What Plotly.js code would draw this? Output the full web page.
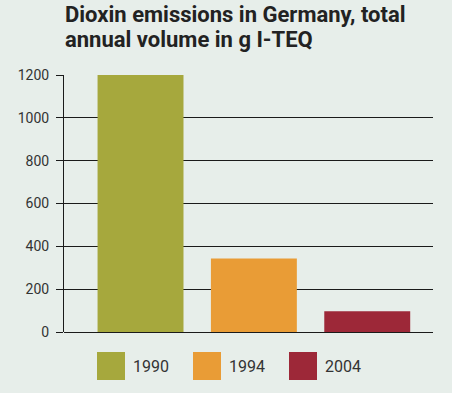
<!DOCTYPE html>
<html>
<head>
<meta charset="utf-8">
<script src="https://cdn.plot.ly/plotly-3.0.1.min.js"></script>
<style>
html,body{margin:0;padding:0;background:#e7eeea;}
#chart{width:452px;height:393px;}
</style>
</head>
<body>
<div id="chart"></div>
<script>
var years = ["1990", "1994", "2004"];
var emissions = [1200, 343, 97];
var barColors = ["#a6a83d", "#e99c36", "#9d2838"];
var yTicks = [0, 200, 400, 600, 800, 1000, 1200];
var titleLines = ["Dioxin emissions in Germany, total", "annual volume in g I-TEQ"];

var W = 452, H = 393;
var mL = 64, mR = 19, mT = 75, mB = 61;
var pw = W - mL - mR, ph = H - mT - mB;
function px2x(px){ return (px - mL) / pw; }
function py2y(py){ return (H - mB - py) / ph; }

var shapes = [], annotations = [];
titleLines.forEach(function(line, i){
  annotations.push({xref:'paper', yref:'paper', x: px2x(63), y: py2y(15 + i * 24),
    xanchor:'left', yanchor:'middle', showarrow:false, text: line,
    font:{family:'Roboto', size:22, color:'#222', weight:'bold'}});
});
years.forEach(function(yr, i){
  var sx = 97 + i * 96;
  shapes.push({type:'rect', xref:'paper', yref:'paper',
    x0: px2x(sx), x1: px2x(sx + 28), y0: py2y(380), y1: py2y(352),
    fillcolor: barColors[i], line:{width:0}});
  annotations.push({xref:'paper', yref:'paper', x: px2x(sx + 34), y: py2y(366),
    xanchor:'left', yanchor:'middle', showarrow:false, text: yr,
    font:{family:'Roboto', size:16, color:'#333'}});
});

var data = [{
  type:'bar', x: years, y: emissions, width: 0.758,
  marker:{color: barColors, line:{width:0}},
  hoverinfo:'x+y', showlegend:false
}];

var layout = {
  width: W, height: H,
  margin:{l:mL, r:mR, t:mT, b:mB, pad:0},
  paper_bgcolor:'#e7eeea', plot_bgcolor:'#e7eeea',
  xaxis:{type:'category', range:[-0.675, 2.58], showticklabels:false,
    showgrid:false, zeroline:false, showline:false, ticks:'', fixedrange:true},
  yaxis:{range:[0, 1200], tickvals: yTicks, ticktext: yTicks.map(String),
    showgrid:true, gridcolor:'#1a1a1a', gridwidth:1,
    zeroline:true, zerolinecolor:'#1a1a1a', zerolinewidth:1,
    showline:true, linecolor:'#1a1a1a', linewidth:1,
    ticks:'outside', ticklen:7, tickcolor:'#1a1a1a', tickwidth:1,
    ticklabelstandoff:4,
    tickfont:{family:'Roboto', size:14, color:'#333'}, fixedrange:true},
  shapes: shapes, annotations: annotations, showlegend:false
};

Plotly.newPlot('chart', data, layout, {displayModeBar:false, staticPlot:true});
</script>
</body>
</html>
